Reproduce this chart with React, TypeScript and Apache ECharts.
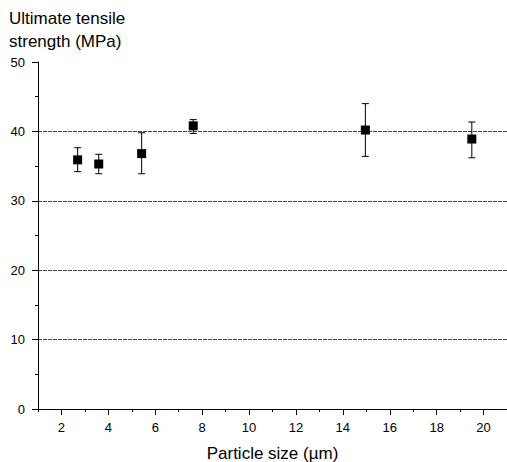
import React, { useEffect, useRef } from "react";
import * as echarts from "echarts";

const particleSize = [2.69, 3.59, 5.42, 7.62, 14.96, 19.5];
const strength = [35.9, 35.3, 36.8, 40.8, 40.2, 38.9];
const errLow = [34.2, 33.9, 33.9, 39.7, 36.4, 36.2];
const errHigh = [37.65, 36.7, 39.8, 41.7, 44.0, 41.35];
const xMajorTicks = [2, 4, 6, 8, 10, 12, 14, 16, 18, 20];
const xMinorTicks = [1, 3, 5, 7, 9, 11, 13, 15, 17, 19, 21];

const FONT = "Liberation Sans, Arial, sans-serif";

export default function App() {
  const ref = useRef<HTMLDivElement>(null);
  useEffect(() => {
    if (!ref.current) return;
    const chart = echarts.init(ref.current, undefined, { renderer: "svg" });
    const points = particleSize.map((x, i) => [x, strength[i]]);
    const errData = particleSize.map((x, i) => [x, errLow[i], errHigh[i]]);
    chart.setOption({
      animation: false,
      backgroundColor: "#ffffff",
      textStyle: { fontFamily: FONT },
      title: {
        text: "Ultimate tensile\nstrength (MPa)",
        left: 9,
        top: 7,
        padding: 0,
        textStyle: {
          fontFamily: FONT,
          fontSize: 17,
          fontWeight: "normal",
          color: "#000",
          lineHeight: 23,
        },
      },
      grid: {
        left: 38,
        right: 0,
        top: 62,
        bottom: 53,
        containLabel: false,
        outerBoundsMode: "none",
      },
      xAxis: [
        {
          type: "value",
          min: 1,
          max: 21,
          name: "Particle size (µm)",
          nameLocation: "middle",
          nameGap: 36,
          nameTextStyle: { fontFamily: FONT, fontSize: 17, color: "#000" },
          axisLine: { show: true, lineStyle: { color: "#000", width: 1 } },
          axisTick: {
            show: true,
            length: 6,
            inside: false,
            customValues: xMajorTicks,
            lineStyle: { color: "#000" },
          },
          axisLabel: {
            customValues: xMajorTicks,
            margin: 12,
            fontFamily: FONT,
            fontSize: 13,
            color: "#000",
          },
          splitLine: { show: false },
        },
        {
          type: "value",
          min: 1,
          max: 21,
          position: "bottom",
          axisLine: { show: false },
          axisTick: {
            show: true,
            length: 3,
            inside: false,
            customValues: xMinorTicks,
            lineStyle: { color: "#000" },
          },
          axisLabel: { show: false },
          splitLine: { show: false },
        },
      ],
      yAxis: {
        type: "value",
        min: 0,
        max: 50,
        interval: 10,
        axisLine: { show: true, lineStyle: { color: "#000", width: 1 } },
        axisTick: { show: true, length: 6, inside: false, lineStyle: { color: "#000" } },
        minorTick: { show: true, splitNumber: 2, length: 3, lineStyle: { color: "#000" } },
        axisLabel: { margin: 13, fontFamily: FONT, fontSize: 13, color: "#000" },
        splitLine: {
          show: true,
          showMinLine: false,
          showMaxLine: false,
          lineStyle: { color: "#444", type: [4, 1], width: 1 },
        },
      },
      series: [
        {
          type: "custom",
          xAxisIndex: 0,
          data: errData,
          z: 2,
          renderItem: (params: any, api: any) => {
            const x = api.value(0);
            const lo = api.coord([x, api.value(1)]);
            const hi = api.coord([x, api.value(2)]);
            const hw = 3.5;
            const style = { stroke: "#000", lineWidth: 1 };
            return {
              type: "group",
              children: [
                { type: "line", shape: { x1: lo[0], y1: lo[1], x2: hi[0], y2: hi[1] }, style },
                { type: "line", shape: { x1: lo[0] - hw, y1: lo[1], x2: lo[0] + hw, y2: lo[1] }, style },
                { type: "line", shape: { x1: hi[0] - hw, y1: hi[1], x2: hi[0] + hw, y2: hi[1] }, style },
              ],
            };
          },
        },
        {
          type: "scatter",
          xAxisIndex: 0,
          data: points,
          symbol: "rect",
          symbolSize: 9,
          itemStyle: { color: "#000", opacity: 1 },
          z: 3,
        },
      ],
    });
    return () => chart.dispose();
  }, []);
  return (
    <div
      ref={ref}
      style={{ position: "fixed", left: 0, top: 0, width: 507, height: 462 }}
    />
  );
}
